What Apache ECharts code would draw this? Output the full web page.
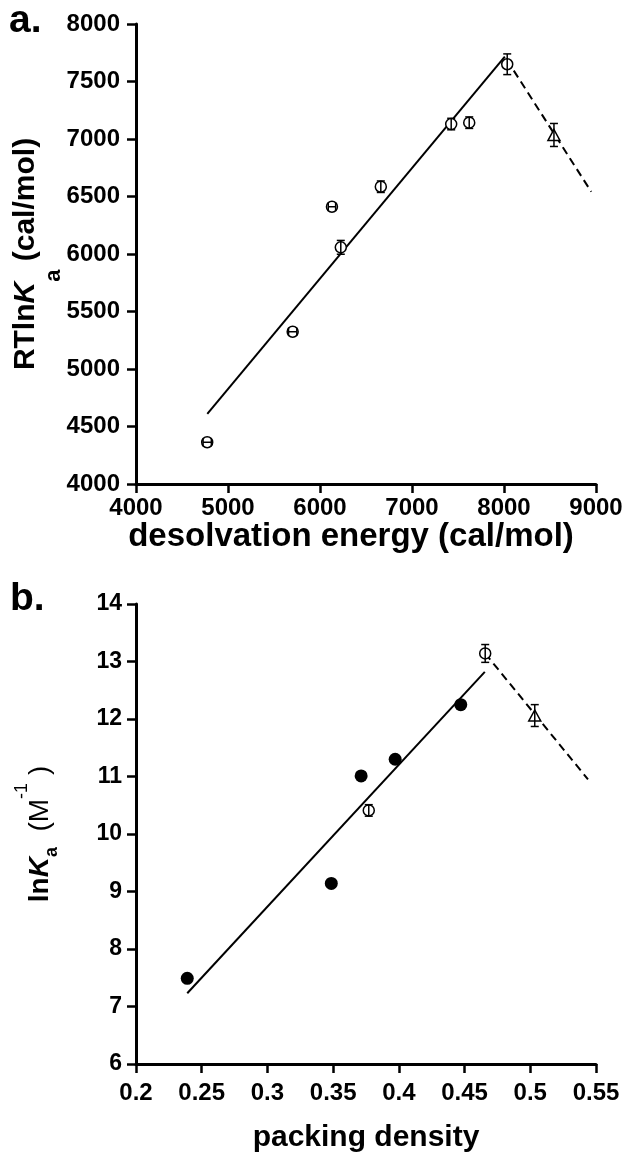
<!DOCTYPE html>
<html lang="en">
<head>
  <meta charset="UTF-8">
  <title>desolvation energy / packing density</title>
  <script src="https://cdn.jsdelivr.net/npm/echarts@6/dist/echarts.min.js"></script>
  <style>
    html, body { margin: 0; padding: 0; background: #fff; }
  </style>
</head>
<body>
  <div id="main" style="width:625px;height:1154px;"></div>
  <script>
    // panel a: RTlnKa vs desolvation energy
    var aX     = [4774, 5703, 6130, 6226, 6661, 7426, 7622, 8035];
    var aY     = [4363, 5324, 6411, 6058, 6585, 7130, 7142, 7650];
    var aXErr  = [45, 45, 40, 0, 0, 0, 0, 0];
    var aYErr  = [0, 0, 0, 60, 50, 50, 50, 90];
    var aTriX  = [8543];
    var aTriY  = [7035];
    var aTriYErr = [100];
    var aFitX  = [4775, 8009];
    var aFitY  = [4609, 7716];
    var aDashX = [8030, 8948];
    var aDashY = [7690, 6542];

    // panel b: lnKa vs packing density
    var bFillX = [0.239, 0.3486, 0.3713, 0.3972, 0.4471];
    var bFillY = [7.49, 9.14, 11.01, 11.30, 12.25];
    var bOpenX = [0.3771, 0.4657];
    var bOpenY = [10.41, 13.14];
    var bOpenYErr = [0.1, 0.155];
    var bTriX  = [0.5034];
    var bTriY  = [12.06];
    var bTriYErr = [0.19];
    var bFitX  = [0.239, 0.4654];
    var bFitY  = [7.23, 12.82];
    var bDashX = [0.4657, 0.5439];
    var bDashY = [13.14, 10.95];

    var FONT = "'Liberation Sans', Arial, sans-serif";

    function pairs(xs, ys) {
      return xs.map(function (x, i) { return [x, ys[i]]; });
    }
    function quads(xs, ys, ex, ey) {
      return xs.map(function (x, i) { return [x, ys[i], ex ? ex[i] : 0, ey ? ey[i] : 0]; });
    }

    // error bars drawn with caps
    function errRender(params, api) {
      var x = api.value(0), y = api.value(1), ex = api.value(2), ey = api.value(3);
      var c = api.coord([x, y]);
      var st = { stroke: '#000', lineWidth: 1.5 };
      var kids = [];
      var cap = 4;
      if (ey > 0) {
        var lo = api.coord([x, y - ey]), hi = api.coord([x, y + ey]);
        kids.push({ type: 'line', shape: { x1: c[0], y1: lo[1], x2: c[0], y2: hi[1] }, style: st });
        kids.push({ type: 'line', shape: { x1: c[0] - cap, y1: lo[1], x2: c[0] + cap, y2: lo[1] }, style: st });
        kids.push({ type: 'line', shape: { x1: c[0] - cap, y1: hi[1], x2: c[0] + cap, y2: hi[1] }, style: st });
      }
      if (ex > 0) {
        var l = api.coord([x - ex, y]), r = api.coord([x + ex, y]);
        kids.push({ type: 'line', shape: { x1: l[0], y1: c[1], x2: r[0], y2: c[1] }, style: st });
        kids.push({ type: 'line', shape: { x1: l[0], y1: c[1] - cap, x2: l[0], y2: c[1] + cap }, style: st });
        kids.push({ type: 'line', shape: { x1: r[0], y1: c[1] - cap, x2: r[0], y2: c[1] + cap }, style: st });
      }
      return { type: 'group', children: kids };
    }

    function axisBase(min, max, interval, labelSize, margin) {
      return {
        type: 'value', min: min, max: max, interval: interval,
        nameMoveOverlap: false,
        axisLine: { show: true, lineStyle: { color: '#000', width: 3 } },
        axisTick: { show: true, inside: false, length: 9, lineStyle: { color: '#000', width: 2.5 } },
        splitLine: { show: false },
        axisLabel: {
          color: '#000', fontFamily: FONT, fontWeight: 'bold', fontSize: labelSize, margin: margin,
          formatter: function (v) { return String(Math.round(v * 100) / 100); }
        }
      };
    }

    var xa = axisBase(4000, 9000, 1000, 24, 12);
    xa.gridIndex = 0;
    xa.name = 'desolvation energy (cal/mol)';
    xa.nameLocation = 'middle';
    xa.nameGap = 36;
    xa.nameTextStyle = { color: '#000', fontFamily: FONT, fontWeight: 'bold', fontSize: 33, lineHeight: 33, padding: [0, 30, 0, 0] };

    var ya = axisBase(4000, 8000, 500, 24, 16);
    ya.gridIndex = 0;
    ya.name = '{m|RTln}{k|K}{s|a}{m| (cal/mol)}';
    ya.nameLocation = 'middle';
    ya.nameRotate = 90;
    ya.nameGap = 71;
    ya.nameTextStyle = {
      color: '#000', fontFamily: FONT, fontWeight: 'bold', fontSize: 30,
      rich: {
        m: { fontFamily: FONT, fontWeight: 'bold', fontSize: 30, lineHeight: 54, verticalAlign: 'top', color: '#000' },
        k: { fontFamily: FONT, fontWeight: 'bold', fontStyle: 'italic', fontSize: 30, lineHeight: 54, verticalAlign: 'top', color: '#000' },
        s: { fontFamily: FONT, fontWeight: 'bold', fontSize: 22, lineHeight: 54, verticalAlign: 'top', padding: [32, 0, 0, 0], color: '#000' }
      }
    };

    var xb = axisBase(0.2, 0.55, 0.05, 24, 17);
    xb.gridIndex = 1;
    xb.name = 'packing density';
    xb.nameLocation = 'middle';
    xb.nameGap = 59;
    xb.nameTextStyle = { color: '#000', fontFamily: FONT, fontWeight: 'bold', fontSize: 30, lineHeight: 30 };

    var yb = axisBase(6, 14, 1, 23, 14);
    yb.gridIndex = 1;
    yb.name = '{m|ln}{k|K}{s|a}{n|  (M}{p|-1}{n| )}';
    yb.nameLocation = 'middle';
    yb.nameRotate = 90;
    yb.nameGap = 75;
    yb.nameTextStyle = {
      color: '#000', fontFamily: FONT, fontSize: 28,
      rich: {
        m: { fontFamily: FONT, fontWeight: 'bold', fontSize: 28, lineHeight: 48, verticalAlign: 'top', padding: [13, 0, 0, 0], color: '#000' },
        k: { fontFamily: FONT, fontWeight: 'bold', fontStyle: 'italic', fontSize: 28, lineHeight: 48, verticalAlign: 'top', padding: [13, 0, 0, 0], color: '#000' },
        s: { fontFamily: FONT, fontWeight: 'bold', fontSize: 18, lineHeight: 48, verticalAlign: 'top', padding: [30, 0, 0, 0], color: '#000' },
        n: { fontFamily: FONT, fontWeight: 'normal', fontSize: 28, lineHeight: 48, verticalAlign: 'top', padding: [13, 0, 0, 0], color: '#000' },
        p: { fontFamily: FONT, fontWeight: 'normal', fontSize: 18, lineHeight: 48, verticalAlign: 'top', padding: [0, 0, 0, 0], color: '#000' }
      }
    };

    var openStyle = { color: '#fff', borderColor: '#000', borderWidth: 1.5, opacity: 1 };
    var solidLine = { color: '#000', width: 2 };
    var dashLine = { color: '#000', width: 2, type: [8, 5] };

    var option = {
      animation: false,
      backgroundColor: '#fff',
      grid: [
        { left: 136, right: 29, top: 24, height: 460, outerBoundsMode: 'none', containLabel: false },
        { left: 136, right: 29, top: 604, height: 460, outerBoundsMode: 'none', containLabel: false }
      ],
      xAxis: [xa, xb],
      yAxis: [ya, yb],
      graphic: [
        { type: 'text', left: 9, top: 2, style: { text: 'a.', font: 'bold 39px ' + FONT, fill: '#000' } },
        { type: 'text', left: 10, top: 580, style: { text: 'b.', font: 'bold 39px ' + FONT, fill: '#000' } }
      ],
      series: [
        { type: 'line', xAxisIndex: 0, yAxisIndex: 0, data: pairs(aFitX, aFitY), symbol: 'none', lineStyle: solidLine, z: 2 },
        { type: 'line', xAxisIndex: 0, yAxisIndex: 0, data: pairs(aDashX, aDashY), symbol: 'none', lineStyle: dashLine, z: 2 },
        { type: 'scatter', xAxisIndex: 0, yAxisIndex: 0, data: pairs(aX, aY), symbol: 'circle', symbolSize: 11, itemStyle: openStyle, z: 3 },
        { type: 'scatter', xAxisIndex: 0, yAxisIndex: 0, data: pairs(aTriX, aTriY), symbol: 'triangle', symbolSize: [12, 11], itemStyle: openStyle, z: 3 },
        { type: 'custom', xAxisIndex: 0, yAxisIndex: 0, data: quads(aX, aY, aXErr, aYErr), renderItem: errRender, encode: { x: 0, y: 1 }, z: 4 },
        { type: 'custom', xAxisIndex: 0, yAxisIndex: 0, data: quads(aTriX, aTriY, null, aTriYErr), renderItem: errRender, encode: { x: 0, y: 1 }, z: 4 },

        { type: 'line', xAxisIndex: 1, yAxisIndex: 1, data: pairs(bFitX, bFitY), symbol: 'none', lineStyle: solidLine, z: 2 },
        { type: 'line', xAxisIndex: 1, yAxisIndex: 1, data: pairs(bDashX, bDashY), symbol: 'none', lineStyle: dashLine, z: 2 },
        { type: 'scatter', xAxisIndex: 1, yAxisIndex: 1, data: pairs(bFillX, bFillY), symbol: 'circle', symbolSize: 13, itemStyle: { color: '#000', opacity: 1 }, z: 3 },
        { type: 'scatter', xAxisIndex: 1, yAxisIndex: 1, data: pairs(bOpenX, bOpenY), symbol: 'circle', symbolSize: 11, itemStyle: openStyle, z: 3 },
        { type: 'scatter', xAxisIndex: 1, yAxisIndex: 1, data: pairs(bTriX, bTriY), symbol: 'triangle', symbolSize: [12, 11], itemStyle: openStyle, z: 3 },
        { type: 'custom', xAxisIndex: 1, yAxisIndex: 1, data: quads(bOpenX, bOpenY, null, bOpenYErr), renderItem: errRender, encode: { x: 0, y: 1 }, z: 4 },
        { type: 'custom', xAxisIndex: 1, yAxisIndex: 1, data: quads(bTriX, bTriY, null, bTriYErr), renderItem: errRender, encode: { x: 0, y: 1 }, z: 4 }
      ]
    };

    var chart = echarts.init(document.getElementById('main'));
    chart.setOption(option);
  </script>
</body>
</html>
